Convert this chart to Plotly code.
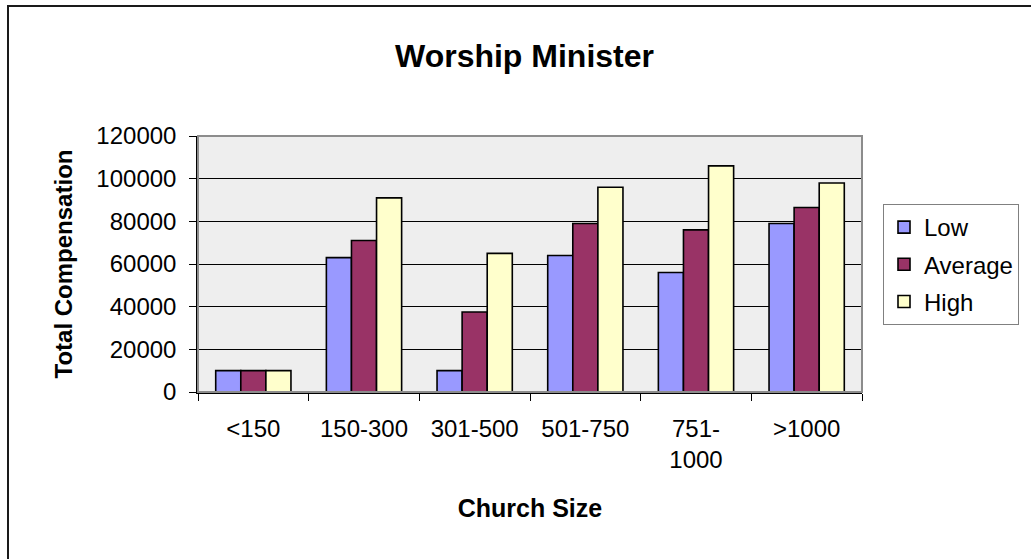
import plotly.graph_objects as go

categories = ["<150", "150-300", "301-500", "501-750", "751-<br>1000", ">1000"]
low = [10000, 63000, 10000, 64000, 56000, 79000]
average = [10000, 71000, 37500, 79000, 76000, 86500]
high = [10000, 91000, 65000, 96000, 106000, 98000]
series_names = ["Low", "Average", "High"]
colors = ["#9999FF", "#993366", "#FFFFCC"]
y_ticks = [0, 20000, 40000, 60000, 80000, 100000, 120000]

W, H = 1031, 559
L, R, T, B = 198, 1031 - 862, 136, 559 - 392
PW, PH = W - L - R, H - T - B

def px_x(px):
    return (px - L) / PW

def px_y(py):
    return (H - B - py) / PH

FONT = "Liberation Sans, Arial, sans-serif"

fig = go.Figure()
for name, vals, col in zip(series_names, [low, average, high], colors):
    fig.add_trace(go.Bar(
        x=categories, y=vals, name=name, legendgroup=name,
        marker=dict(color=col, line=dict(color="#000000", width=1.6)),
    ))

shapes = [
    dict(type="rect", xref="paper", yref="paper", x0=0, x1=1, y0=0, y1=1,
         line=dict(color="#8C8C8C", width=2), layer="above"),
    dict(type="line", xref="paper", yref="paper", x0=px_x(8), x1=px_x(8),
         y0=px_y(6), y1=px_y(570), line=dict(color="#1A1A1A", width=2)),
    dict(type="line", xref="paper", yref="paper", x0=px_x(7), x1=px_x(1045),
         y0=px_y(6), y1=px_y(6), line=dict(color="#1A1A1A", width=2)),
]

fig.update_layout(
    width=W, height=H,
    margin=dict(l=L, r=R, t=T, b=B, autoexpand=False),
    paper_bgcolor="white",
    plot_bgcolor="#EEEEEE",
    barmode="group",
    bargap=0.32,
    bargroupgap=0,
    font=dict(family=FONT, size=24, color="black"),
    title=dict(text="<b>Worship Minister</b>", x=524.5 / W, xanchor="center",
               y=1 - 56 / H, yanchor="middle",
               font=dict(family=FONT, size=32, color="black")),
    legend=dict(x=px_x(883), xanchor="left", y=px_y(204), yanchor="top",
                bgcolor="white", bordercolor="#808080", borderwidth=1,
                font=dict(family=FONT, size=24, color="black"),
                tracegroupgap=3, itemwidth=30),
    shapes=shapes,
    showlegend=True,
)

fig.update_xaxes(
    type="category",
    showline=True, linecolor="black", linewidth=1.5,
    ticks="outside", tickson="boundaries", ticklen=7, tickcolor="black", tickwidth=1,
    tickfont=dict(family=FONT, size=24, color="black"),
    ticklabelstandoff=14,
    title=dict(text="<b>Church Size</b>", standoff=28,
               font=dict(family=FONT, size=25, color="black")),
    showgrid=False, zeroline=False,
)
fig.update_yaxes(
    range=[0, 120000], tickvals=y_ticks, tickformat="d",
    showline=True, linecolor="black", linewidth=1.5,
    ticks="outside", ticklen=7, tickcolor="black", tickwidth=1,
    tickfont=dict(family=FONT, size=24, color="black"),
    ticklabelstandoff=8,
    showgrid=True, gridcolor="black", gridwidth=1,
    zeroline=False,
    title=dict(text="<b>Total Compensation</b>", standoff=17,
               font=dict(family=FONT, size=24, color="black")),
)

fig.write_html("out.html",
               config={"displayModeBar": False},
               post_script="document.body.style.margin='0px';document.body.style.overflow='hidden';")
